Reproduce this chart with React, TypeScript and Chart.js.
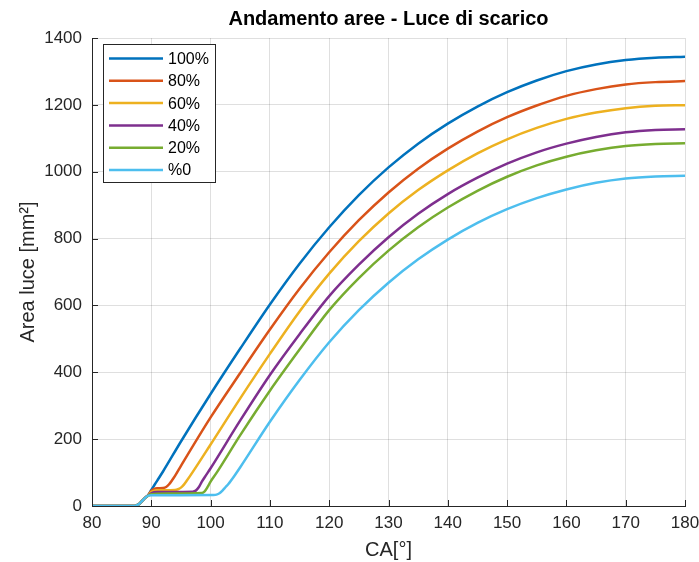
import React, { useEffect, useRef } from 'react';
import { Chart, registerables } from 'chart.js';

Chart.register(...registerables);

const chartTitle = 'Andamento aree - Luce di scarico';
const xAxisTitle = 'CA[°]';
const yAxisTitle = 'Area luce [mm²]';

const seriesLabels = ['100%', '80%', '60%', '40%', '20%', '%0'];
const seriesColors = ['#0072BD', '#D95319', '#EDB120', '#7E2F8E', '#77AC30', '#4DBEEE'];

const xTicks = [80, 90, 100, 110, 120, 130, 140, 150, 160, 170, 180];
const yTicks = [0, 200, 400, 600, 800, 1000, 1200, 1400];

// 100%
const ca100 = [80, 87, 87.5, 88, 88.5, 89, 89.5, 90, 90.5, 91, 92, 95, 100, 105, 110, 115, 120, 125, 130, 135, 140, 145, 150, 155, 160, 165, 170, 175, 180];
const area100 = [0, 0, 2, 7, 16, 25, 33, 48, 62, 76, 104, 193, 335, 471, 603, 725, 834, 930, 1013, 1084, 1144, 1195, 1238, 1273, 1301, 1321, 1334, 1341, 1344];

// 80%
const ca80 = [80, 87, 87.5, 88, 88.5, 89, 89.5, 90, 90.5, 91, 92, 92.5, 93, 93.5, 94, 95, 100, 105, 110, 115, 120, 125, 130, 135, 140, 145, 150, 155, 160, 165, 170, 175, 180];
const area80 = [0, 0, 2, 7, 16, 25, 33, 45, 51, 53, 54, 57, 65, 77, 90, 120, 265, 398, 528, 650, 759, 855, 938, 1009, 1069, 1120, 1163, 1198, 1227, 1247, 1261, 1268, 1271];

// 60%
const ca60 = [80, 87, 87.5, 88, 88.5, 89, 89.5, 90, 90.5, 91, 94, 94.5, 95, 95.5, 96, 97, 100, 105, 110, 115, 120, 125, 130, 135, 140, 145, 150, 155, 160, 165, 170, 175, 180];
const area60 = [0, 0, 2, 7, 16, 25, 32, 42, 46, 47, 48, 50, 55, 64, 76, 102, 184, 322, 455, 582, 695, 792, 875, 945, 1004, 1055, 1097, 1131, 1158, 1177, 1190, 1197, 1199];

// 40%
const ca40 = [80, 87, 87.5, 88, 88.5, 89, 89.5, 90, 90.5, 91, 97, 97.5, 98, 98.5, 99, 100, 105, 110, 115, 120, 125, 130, 135, 140, 145, 150, 155, 160, 165, 170, 175, 180];
const area40 = [0, 0, 2, 7, 16, 25, 32, 38, 41, 42, 43, 46, 56, 72, 86, 113, 256, 392, 514, 628, 722, 804, 874, 933, 982, 1024, 1058, 1084, 1104, 1118, 1125, 1127];

// 20%
const ca20 = [80, 87, 87.5, 88, 88.5, 89, 89.5, 90, 91, 98.5, 99, 99.5, 100, 101, 105, 110, 115, 120, 125, 130, 135, 140, 145, 150, 155, 160, 165, 170, 175, 180];
const area20 = [0, 0, 2, 7, 16, 25, 31, 35, 37, 39, 44, 57, 73, 99, 212, 345, 468, 586, 682, 764, 834, 893, 943, 985, 1019, 1045, 1064, 1077, 1083, 1085];

// %0
const ca0 = [80, 87, 87.5, 88, 88.5, 89, 89.5, 90, 100.5, 101, 101.5, 102, 102.5, 103, 104, 105, 110, 115, 120, 125, 130, 135, 140, 145, 150, 155, 160, 165, 170, 175, 180];
const area0 = [0, 0, 2, 7, 16, 25, 31, 32, 33, 34, 38, 46, 56, 66, 90, 116, 252, 377, 490, 586, 668, 738, 797, 847, 888, 921, 947, 967, 980, 986, 988];

const seriesX = [ca100, ca80, ca60, ca40, ca20, ca0];
const seriesY = [area100, area80, area60, area40, area20, area0];

const FONT = "'Liberation Sans', Arial, Helvetica, sans-serif";
const AXIS_COLOR = '#262626';

const overlayPlugin = {
  id: 'matlabOverlay',
  afterDatasetsDraw(chart: any) {
    const { ctx, chartArea, scales } = chart;
    const { left, bottom } = chartArea;
    const xs = scales.x;
    const ys = scales.y;
    ctx.save();
    // inward tick marks
    ctx.strokeStyle = AXIS_COLOR;
    ctx.lineWidth = 1;
    ctx.beginPath();
    xTicks.forEach((v) => {
      const px = Math.round(xs.getPixelForValue(v)) + 0.5;
      ctx.moveTo(px, bottom);
      ctx.lineTo(px, bottom - 6);
    });
    yTicks.forEach((v) => {
      const py = Math.round(ys.getPixelForValue(v)) + 0.5;
      ctx.moveTo(left, py);
      ctx.lineTo(left + 6, py);
    });
    ctx.stroke();

    // legend box
    const bx = left + 11.5;
    const by = chartArea.top + 6.5;
    const bw = 112;
    const bh = 138;
    ctx.fillStyle = '#ffffff';
    ctx.fillRect(bx, by, bw, bh);
    ctx.strokeStyle = AXIS_COLOR;
    ctx.lineWidth = 1;
    ctx.strokeRect(bx, by, bw, bh);
    const rowStart = by + 14;
    const rowGap = 22.3;
    ctx.font = `16px ${FONT}`;
    ctx.textBaseline = 'middle';
    ctx.textAlign = 'left';
    seriesLabels.forEach((lab, i) => {
      const ry = rowStart + i * rowGap;
      ctx.strokeStyle = seriesColors[i];
      ctx.lineWidth = 2.5;
      ctx.beginPath();
      ctx.moveTo(bx + 5.5, ry);
      ctx.lineTo(bx + 59.5, ry);
      ctx.stroke();
      ctx.fillStyle = '#000000';
      ctx.fillText(lab, bx + 64.5, ry + 1);
    });
    ctx.restore();
  },
};

export default function App() {
  const canvasRef = useRef<HTMLCanvasElement | null>(null);

  useEffect(() => {
    const canvas = canvasRef.current;
    if (!canvas) return;
    const datasets = seriesLabels.map((label, i) => ({
      label,
      data: seriesX[i].map((x, j) => ({ x, y: seriesY[i][j] })),
      borderColor: seriesColors[i],
      backgroundColor: seriesColors[i],
      borderWidth: 2.5,
      pointRadius: 0,
      pointHoverRadius: 0,
      fill: false,
      cubicInterpolationMode: 'monotone' as const,
      order: seriesLabels.length - i,
    }));

    const chart = new Chart(canvas, {
      type: 'line',
      data: { datasets },
      plugins: [overlayPlugin],
      options: {
        responsive: false,
        animation: false,
        devicePixelRatio: 1,
        layout: { padding: { left: 0, right: 14, top: 0, bottom: 0 } },
        plugins: {
          legend: { display: false },
          tooltip: { enabled: false },
          title: {
            display: true,
            text: chartTitle,
            fullSize: false,
            color: '#000000',
            font: { family: FONT, size: 20, weight: 'bold', lineHeight: 1.2 },
            padding: { top: 7, bottom: 7 },
          },
        },
        scales: {
          x: {
            type: 'linear',
            min: 80,
            max: 180,
            afterBuildTicks: (scale: any) => {
              scale.ticks = xTicks.map((v) => ({ value: v }));
            },
            afterFit: (scale: any) => {
              scale.height = 56;
              scale.paddingLeft = 0;
              scale.paddingRight = 0;
            },
            grid: { color: 'rgba(38,38,38,0.15)', lineWidth: 1, drawTicks: false },
            border: { display: true, color: AXIS_COLOR, width: 1 },
            ticks: {
              color: AXIS_COLOR,
              font: { family: FONT, size: 17 },
              padding: 7,
              maxRotation: 0,
              autoSkip: false,
              callback: (v: any) => String(v),
            },
            title: {
              display: true,
              text: xAxisTitle,
              color: AXIS_COLOR,
              font: { family: FONT, size: 20, lineHeight: 1.2 },
              padding: { top: 0, bottom: 0 },
            },
          },
          y: {
            type: 'linear',
            min: 0,
            max: 1400,
            afterBuildTicks: (scale: any) => {
              scale.ticks = yTicks.map((v) => ({ value: v }));
            },
            afterFit: (scale: any) => {
              scale.width = 92;
              scale.paddingTop = 0;
              scale.paddingBottom = 0;
            },
            grid: { color: 'rgba(38,38,38,0.15)', lineWidth: 1, drawTicks: false },
            border: { display: true, color: AXIS_COLOR, width: 1 },
            ticks: {
              color: AXIS_COLOR,
              font: { family: FONT, size: 17 },
              padding: 10,
              autoSkip: false,
              callback: (v: any) => String(v),
            },
            title: {
              display: true,
              text: yAxisTitle,
              color: AXIS_COLOR,
              font: { family: FONT, size: 20, lineHeight: 1.2 },
              padding: { top: 16, bottom: 0 },
            },
          },
        },
      },
    });
    return () => chart.destroy();
  }, []);

  return (
    <div style={{ position: 'absolute', left: 0, top: 0, width: 699, height: 562, background: '#ffffff' }}>
      <canvas ref={canvasRef} width={699} height={562} style={{ display: 'block' }} />
    </div>
  );
}
